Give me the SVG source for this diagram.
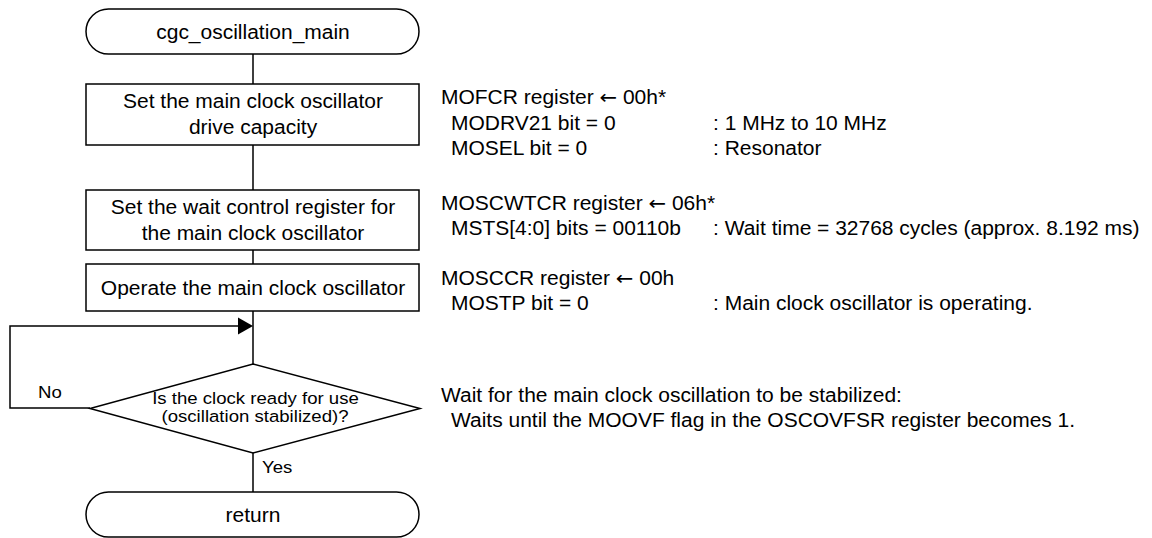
<svg xmlns="http://www.w3.org/2000/svg" width="1152" height="538" viewBox="0 0 1152 538">
<defs>
<style>
.s{fill:#fff;stroke:#000;stroke-width:1.5}
.c{fill:none;stroke:#000;stroke-width:1.5}
text{font-family:"Liberation Sans",Arial,sans-serif;fill:#000}
.t{font-size:21px}
.d{font-size:18.6px}
.m{text-anchor:middle}
.a{font-family:"DejaVu Sans",sans-serif}
</style>
</defs>
<rect width="1152" height="538" fill="#fff"/>
<g id="connectors">
<path class="c" d="M253 54V84M253 145V190M253 250V264M253 311V364M253 453V492"/>
<path class="c" d="M90 408H10V326H240"/>
<polygon points="253,326 238,317.5 238,334.5" fill="#000"/>
<text class="d" transform="translate(38 398) scale(1 0.92)">No</text>
<text class="d" transform="translate(262 473) scale(1 0.92)">Yes</text>
</g>
<g id="start">
<rect class="s" x="86" y="9" width="333" height="45" rx="22.5"/>
<text class="t m" transform="translate(253 38.5) scale(1 0.92)">cgc_oscillation_main</text>
</g>
<g id="drive">
<rect class="s" x="86" y="84" width="333" height="61"/>
<text class="t m" transform="translate(253 108) scale(1 0.92)">Set the main clock oscillator</text>
<text class="t m" transform="translate(253 133.5) scale(1 0.92)">drive capacity</text>
</g>
<g id="wait">
<rect class="s" x="86" y="190" width="333" height="60"/>
<text class="t m" transform="translate(253 214) scale(1 0.92)">Set the wait control register for</text>
<text class="t m" transform="translate(253 239.5) scale(1 0.92)">the main clock oscillator</text>
</g>
<g id="operate">
<rect class="s" x="86" y="264" width="333" height="47"/>
<text class="t m" transform="translate(253 295) scale(1 0.92)">Operate the main clock oscillator</text>
</g>
<g id="ready">
<polygon class="s" points="253,364 420,408.5 253,453 90,408.5"/>
<text class="d m" transform="translate(255.5 404) scale(1 0.92)">Is the clock ready for use</text>
<text class="d m" transform="translate(255 422) scale(1 0.92)">(oscillation stabilized)?</text>
</g>
<g id="return">
<rect class="s" x="86" y="492" width="333" height="45" rx="22.5"/>
<text class="t m" transform="translate(253 521.5) scale(1 0.92)">return</text>
</g>
<g id="notes">
<text class="t" transform="translate(441 104) scale(1 0.92)">MOFCR register <tspan class="a">←</tspan> 00h*</text>
<text class="t" transform="translate(451 129.5) scale(1 0.92)">MODRV21 bit = 0</text>
<text class="t" transform="translate(713 129.5) scale(1 0.92)">: 1 MHz to 10 MHz</text>
<text class="t" transform="translate(451 155) scale(1 0.92)">MOSEL bit = 0</text>
<text class="t" transform="translate(713 155) scale(1 0.92)">: Resonator</text>
<text class="t" transform="translate(441 210) scale(1 0.92)">MOSCWTCR register <tspan class="a">←</tspan> 06h*</text>
<text class="t" transform="translate(451 235) scale(1 0.92)">MSTS[4:0] bits = 00110b</text>
<text class="t" transform="translate(713 235) scale(1 0.92)">: Wait time = 32768 cycles (approx. 8.192 ms)</text>
<text class="t" transform="translate(441 285) scale(1 0.92)">MOSCCR register <tspan class="a">←</tspan> 00h</text>
<text class="t" transform="translate(451 310) scale(1 0.92)">MOSTP bit = 0</text>
<text class="t" transform="translate(713 310) scale(1 0.92)">: Main clock oscillator is operating.</text>
<text class="t" transform="translate(441 402) scale(1 0.92)">Wait for the main clock oscillation to be stabilized:</text>
<text class="t" transform="translate(451 427) scale(1 0.92)">Waits until the MOOVF flag in the OSCOVFSR register becomes 1.</text>
</g>
</svg>
